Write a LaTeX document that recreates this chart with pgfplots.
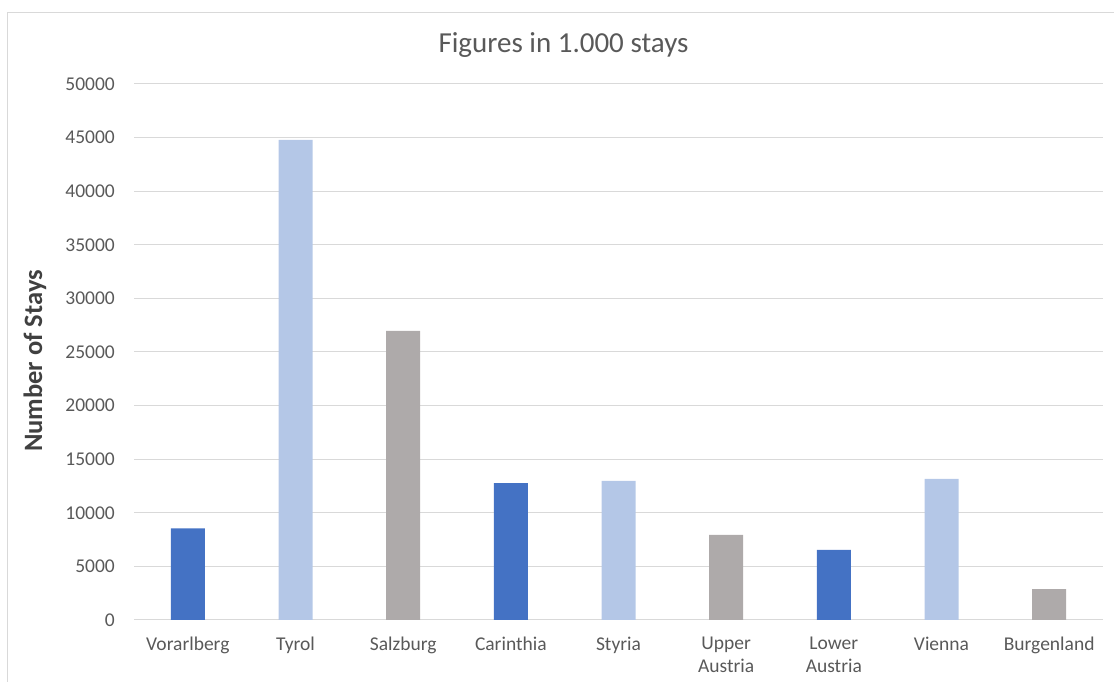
\documentclass[border=0pt]{standalone}
\usepackage{fontspec}
\setmainfont{Carlito}
\usepackage{pgfplots}
\pgfplotsset{compat=1.18}

\definecolor{barblue}{HTML}{4472C4}
\definecolor{barlight}{HTML}{B4C7E7}
\definecolor{bargray}{HTML}{AEAAAA}
\definecolor{gridgray}{HTML}{D9D9D9}
\definecolor{textgray}{HTML}{595959}
\definecolor{labelgray}{HTML}{404040}

\begin{document}
\begin{tikzpicture}[x=1pt,y=1pt]
\useasboundingbox (0,0) rectangle (1114,682);
% chart area border
\draw[gridgray, line width=1.2pt] (7.5,-5) -- (7.5,669.5) -- (1120,669.5);

\begin{axis}[
  at={(134pt,62pt)}, anchor=south west,
  width=969pt, height=536pt, scale only axis,
  xmin=-0.5, xmax=8.5,
  ymin=0, ymax=50000,
  ytick distance=5000,
  xtick={0,...,8},
  xticklabels={Vorarlberg,Tyrol,Salzburg,Carinthia,Styria,Upper\\Austria,Lower\\Austria,Vienna,Burgenland},
  ymajorgrids,
  grid style={gridgray, line width=1pt},
  axis line style={draw=none},
  major tick length=0pt,
  tick style={draw=none},
  /pgf/number format/assume math mode=true,
  scaled y ticks=false,
  yticklabel={\pgfmathprintnumber[fixed,1000 sep={}]{\tick}},
  yticklabel style={anchor=east, inner sep=0pt, xshift=-19pt, text=textgray,
    font=\fontsize{19.5}{23.5}\selectfont},
  xticklabel style={anchor=north, inner sep=0pt, yshift=-17pt, text=textgray,
    align=center, font=\fontsize{19.5}{23}\selectfont},
  ybar, bar width=34pt, bar shift=0pt,
  clip=false,
]
\addplot[fill=barblue, draw=none] coordinates {(0,8550) (3,12760) (6,6530)};
\addplot[fill=barlight, draw=none] coordinates {(1,44780) (4,12970) (7,13160)};
\addplot[fill=bargray, draw=none] coordinates {(2,26970) (5,7930) (8,2890)};
\end{axis}

\node[text=textgray, font=\fontsize{29}{34}\selectfont] at (563.5,637) {Figures in 1.000 stays};
\node[text=labelgray, rotate=90, font=\bfseries\fontsize{26.5}{30}\selectfont] at (35,321) {Number of Stays};
\end{tikzpicture}
\end{document}
